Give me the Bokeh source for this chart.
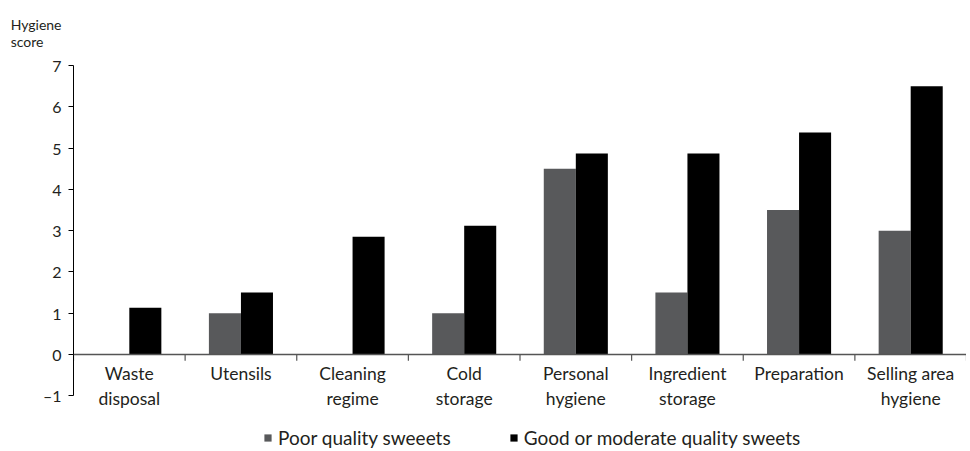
from bokeh.plotting import figure
from bokeh.models import FixedTicker, Span, CustomJSTickFormatter
from bokeh.core.properties import value
from bokeh.embed import file_html
from bokeh.resources import INLINE

categories = ["Waste\ndisposal", "Utensils", "Cleaning\nregime", "Cold\nstorage",
              "Personal\nhygiene", "Ingredient\nstorage", "Preparation", "Selling area\nhygiene"]
poor = [0, 1.0, 0, 1.0, 4.5, 1.5, 3.5, 3.0]
good = [1.13, 1.5, 2.85, 3.12, 4.87, 4.87, 5.38, 6.5]
series_names = ["Poor quality sweeets", "Good or moderate quality sweets"]
y_ticks = [-1, 0, 1, 2, 3, 4, 5, 6, 7]
y_title = "Hygiene\nscore"

FONT = "Lato"
TXT = "#231f20"
GRAY = "#58595b"
AXGRAY = "#555555"

n = len(categories)
idx = list(range(n))
bw = 0.287
x_poor = [i + 0.5 - bw / 2 for i in idx]
x_good = [i + 0.5 + bw / 2 for i in idx]
x_mid = [i + 0.5 for i in idx]
bounds = list(range(n + 1))

p = figure(width=966, height=451, output_backend="svg", toolbar_location=None,
           x_range=(0, n), y_range=(-2.3, 7), title=y_title,
           min_border_left=73, min_border_right=0, min_border_top=65, min_border_bottom=2)
p.outline_line_color = None
p.grid.visible = False
p.xaxis.visible = False

p.title.text_font = FONT
p.title.text_font_size = "14px"
p.title.text_font_style = "normal"
p.title.text_color = TXT
p.title.align = "right"
p.title.offset = 905
p.title.vertical_align = "top"
p.title.standoff = 26
p.title.text_line_height = 1.05

r1 = p.vbar(x=x_poor, top=poor, bottom=0, width=bw, fill_color=GRAY, line_color=None,
            legend_label=series_names[0])
r2 = p.vbar(x=x_good, top=good, bottom=0, width=bw, fill_color="black", line_color=None,
            legend_label=series_names[1])

yax = p.yaxis[0]
yax.ticker = FixedTicker(ticks=y_ticks)
yax.bounds = (-1, 7)
yax.formatter = CustomJSTickFormatter(code="return tick < 0 ? '\\u2013' + Math.abs(tick) : String(tick);")
yax.axis_line_color = "black"
yax.axis_line_width = 1
yax.major_tick_line_color = "black"
yax.major_tick_out = 5
yax.major_tick_in = 0
yax.minor_tick_line_color = None
yax.major_label_text_font = FONT
yax.major_label_text_font_size = "16px"
yax.major_label_text_color = TXT
yax.major_label_standoff = 7

# x axis line at zero with boundary ticks
p.add_layout(Span(location=0, dimension="width", line_color=AXGRAY, line_width=1.5))
p.segment(x0=bounds, y0=[0] * len(bounds), x1=bounds, y1=[-0.15] * len(bounds),
          line_color=AXGRAY, line_width=1.2)

# category labels
p.text(x=x_mid, y=[0] * n, text=categories, text_align="center", text_baseline="top",
       y_offset=8, text_font=value(FONT), text_font_size="17.5px", text_color=TXT,
       text_line_height=1.2)

lg = p.legend[0]
lg.orientation = "horizontal"
lg.border_line_color = None
lg.background_fill_alpha = 0
lg.label_text_font = FONT
lg.label_text_font_size = "19px"
lg.label_text_color = TXT
lg.glyph_width = 9
lg.glyph_height = 9
lg.spacing = 58
lg.label_standoff = 6
lg.padding = 0
lg.margin = 0
lg.location = (190, 0)

open("out.html", "w").write(file_html(p, INLINE))
